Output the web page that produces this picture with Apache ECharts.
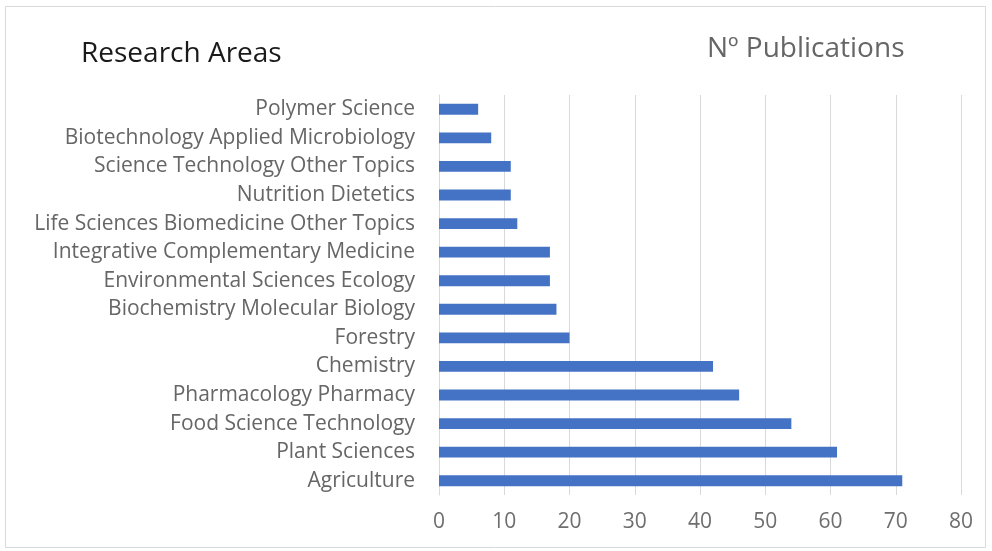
<!DOCTYPE html>
<html>
<head>
<meta charset="utf-8">
<script src="https://cdn.jsdelivr.net/npm/echarts@6/dist/echarts.min.js"></script>
<style>
  html, body { margin: 0; padding: 0; background: #fff; }
  #main { width: 992px; height: 551px; }
</style>
</head>
<body>
<div id="main"></div>
<script>
// bottom to top, as drawn on the category axis
const areas = [
  'Agriculture',
  'Plant Sciences',
  'Food Science Technology',
  'Pharmacology Pharmacy',
  'Chemistry',
  'Forestry',
  'Biochemistry Molecular Biology',
  'Environmental Sciences Ecology',
  'Integrative Complementary Medicine',
  'Life Sciences Biomedicine Other Topics',
  'Nutrition Dietetics',
  'Science Technology Other Topics',
  'Biotechnology Applied Microbiology',
  'Polymer Science'
];
const publications = [71, 61, 54, 46, 42, 20, 18, 17, 17, 12, 11, 11, 8, 6];

const chart = echarts.init(document.getElementById('main'));
const font = '"Open Sans", sans-serif';

const option = {
  animation: false,
  backgroundColor: '#fff',
  graphic: [
    {
      type: 'rect',
      shape: {x: 5.5, y: 6.5, width: 980, height: 541},
      style: {fill: 'none', stroke: '#d9d9d9', lineWidth: 1}
    },
    {
      type: 'text',
      left: 81, top: 40,
      style: {text: 'Research Areas', fill: '#1a1a1a', font: '28px ' + font}
    },
    {
      type: 'text',
      left: 707, top: 35,
      style: {text: 'Nº Publications', fill: '#666666', font: '28px ' + font}
    }
  ],
  grid: {left: 439, right: 31, top: 95, bottom: 56, containLabel: false},
  xAxis: {
    type: 'value',
    min: 0,
    max: 80,
    interval: 10,
    axisLine: {show: false},
    axisTick: {show: false},
    axisLabel: {color: '#6e6e6e', fontSize: 21, fontFamily: font, margin: 17},
    splitLine: {lineStyle: {color: '#d9d9d9', width: 1}}
  },
  yAxis: {
    type: 'category',
    data: areas,
    axisLine: {show: true, lineStyle: {color: '#d9d9d9'}},
    axisTick: {show: false},
    axisLabel: {color: '#666666', fontSize: 21, fontFamily: font, margin: 24}
  },
  series: [{
    type: 'bar',
    data: publications,
    barWidth: '38%',
    itemStyle: {color: '#4472c4'}
  }]
};
chart.setOption(option);
</script>
</body>
</html>
